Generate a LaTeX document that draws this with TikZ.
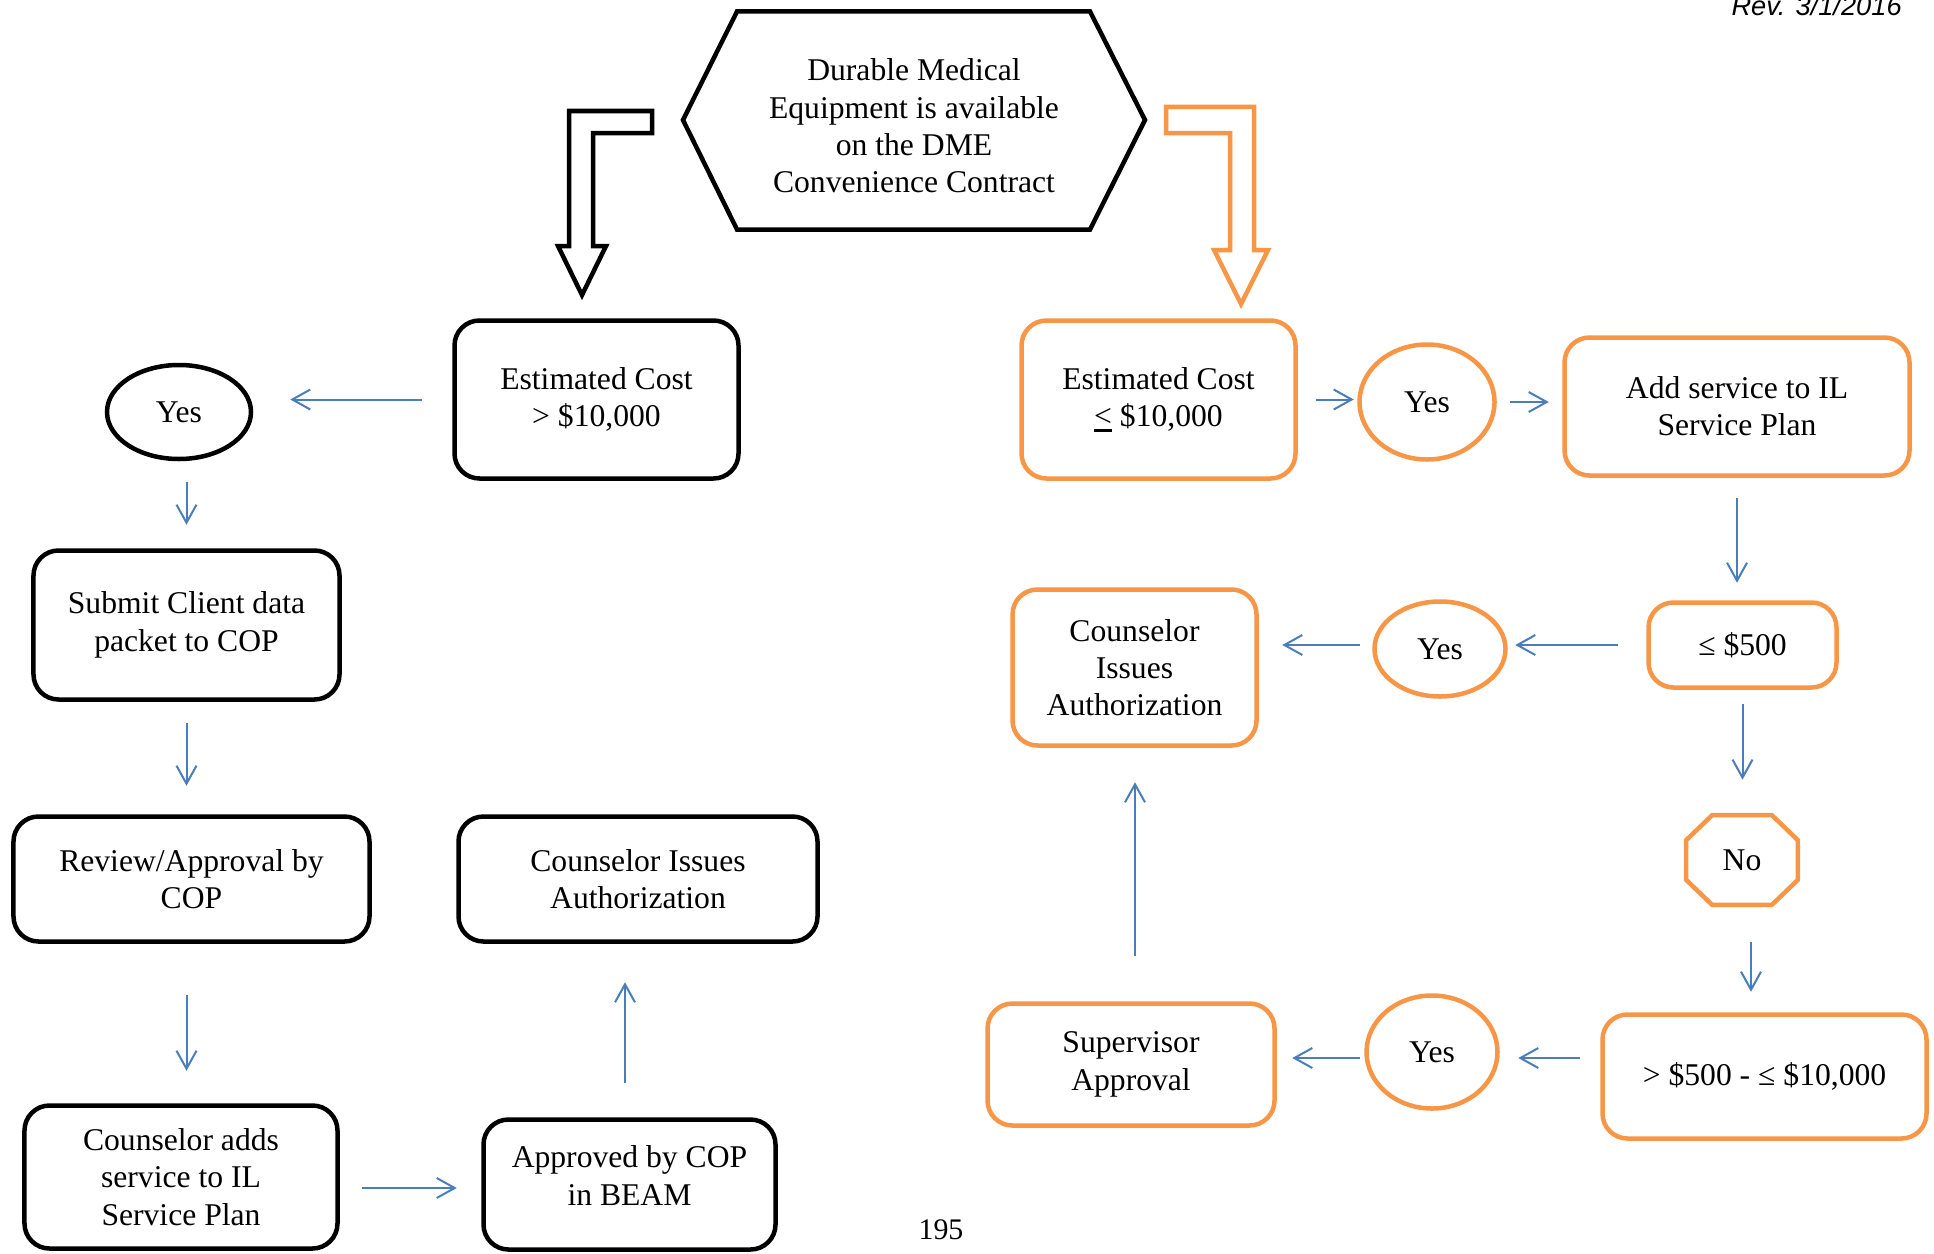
\documentclass[tikz,border=0pt]{standalone}
\usepackage{fontspec}
\setmainfont{Liberation Serif}
\newfontfamily\revfont{Liberation Sans}
\usetikzlibrary{arrows.meta,shapes.geometric}
\definecolor{dmeorange}{HTML}{F79646}
\definecolor{flowblue}{HTML}{4A7EBB}
\newcommand{\lequl}{\makebox[0pt][l]{\rule[-3pt]{0.56em}{1.4pt}}<}
\begin{document}
\begin{tikzpicture}[x=0.2mm,y=-0.2mm,>={Straight Barb[length=3.6mm,width=4mm]},
	every node/.style={font=\fontsize{18}{21.2}\selectfont,align=center,inner sep=0pt},
	blkbox/.style={draw=black,line width=0.9mm,rounded corners=5mm},
	orgbox/.style={draw=dmeorange,line width=0.9mm,rounded corners=5mm},
	blkyes/.style={ellipse,draw=black,line width=0.9mm},
	orgyes/.style={ellipse,draw=dmeorange,line width=0.9mm},
	flow/.style={->,flowblue,line width=0.4mm}]
	\clip (0,0) rectangle (1934,1253);
	\node[font=\revfont\itshape\fontsize{15.5}{18}\selectfont,anchor=base east] (rev) at (1902,16) {Rev. 3/1/2016};
	\node[font=\fontsize{17}{20}\selectfont] (page) at (941,1230) {195};
	% top hexagon and the two block arrows
	\draw[line width=0.9mm] (683,120) -- (737,11.5) -- (1090,11.5) -- (1145,120) -- (1090,229.5) -- (737,229.5) -- cycle;
	\node (dme) at (914,126) {Durable Medical\\Equipment is available\\on the DME\\Convenience Contract};
	\draw[line width=0.9mm,fill=white] (569,111) -- (652,111) -- (652,133) -- (593,133) -- (593,246) -- (606,246) -- (582,295) -- (558,246) -- (569,246) -- cycle;
	\draw[dmeorange,line width=0.9mm,fill=white] (1166,107) -- (1254,107) -- (1254,250) -- (1268,250) -- (1241,304) -- (1214,250) -- (1230,250) -- (1230,133) -- (1166,133) -- cycle;
	% left branch
	\node[blkbox,minimum width=56.8mm,minimum height=31.6mm] (costhi) at (596.5,399.5) {Estimated Cost\\> \$10,000};
	\node[blkyes,minimum width=28.8mm,minimum height=18.8mm] (yesL) at (179,412) {Yes};
	\node[blkbox,minimum width=61.2mm,minimum height=29.8mm] (submit) at (186.5,625) {Submit Client data\\packet to COP};
	\node[blkbox,minimum width=71.2mm,minimum height=25mm] (review) at (191.5,879) {Review/Approval by\\COP};
	\node[blkbox,minimum width=62.6mm,minimum height=28.6mm] (adds) at (181,1177) {Counselor adds\\service to IL\\Service Plan};
	\node[blkbox,minimum width=58.4mm,minimum height=26mm,text depth=3.6mm] (approved) at (629.5,1184.5) {Approved by COP\\in BEAM};
	\node[blkbox,minimum width=71.8mm,minimum height=25mm] (issuesL) at (638,879) {Counselor Issues\\Authorization};
	\draw[flow,shorten <=6.1mm,shorten >=7.4mm] (costhi.west) -- (costhi.west -| yesL.east);
	\draw[flow,shorten <=4.2mm,shorten >=4.7mm] (yesL.south -| submit.north) -- (submit.north);
	\draw[flow,shorten <=4.3mm,shorten >=5.7mm] (submit.south) -- (review.north -| submit.south);
	\draw[flow,shorten <=10.3mm,shorten >=6.5mm] (review.south -| submit.south) -- (adds.north -| submit.south);
	\draw[flow,shorten <=4.5mm,shorten >=4.9mm] ([yshift=-2.2mm]adds.east) -- ([yshift=-2.2mm]adds.east -| approved.west);
	\draw[flow,shorten <=6.9mm,shorten >=7.7mm] ([xshift=-0.9mm]approved.north) -- ([xshift=-0.9mm]approved.north |- issuesL.south);
	% right branch
	\node[orgbox,minimum width=54.8mm,minimum height=31.6mm] (costlo) at (1158.5,399.5) {Estimated Cost\\\lequl{} \$10,000};
	\node[orgyes,minimum width=27mm,minimum height=23mm] (yesA) at (1427,402) {Yes};
	\node[orgbox,minimum width=69mm,minimum height=27.6mm] (addsvc) at (1737,406.5) {Add service to IL\\Service Plan};
	\node[orgbox,minimum width=37.6mm,minimum height=17mm] (le500) at (1742.5,645) {≤ \$500};
	\node[orgyes,minimum width=26.2mm,minimum height=19mm] (yesB) at (1440,649) {Yes};
	\node[orgbox,minimum width=48.8mm,minimum height=31.2mm] (issuesR) at (1134.5,667.5) {Counselor\\Issues\\Authorization};
	\node[minimum width=22.2mm,minimum height=17.8mm] (no) at (1742,860) {No};
	\draw[dmeorange,line width=0.9mm] ([yshift=-5mm]no.north west) -- ([xshift=5.2mm]no.north west) -- ([xshift=-5.2mm]no.north east) -- ([yshift=-5mm]no.north east) -- ([yshift=5mm]no.south east) -- ([xshift=-5.2mm]no.south east) -- ([xshift=5.2mm]no.south west) -- ([yshift=5mm]no.south west) -- cycle;
	\node[orgbox,minimum width=64.8mm,minimum height=24.8mm] (range) at (1764.5,1076.5) {> \$500 - ≤ \$10,000};
	\node[orgyes,minimum width=26.2mm,minimum height=22.6mm] (yesC) at (1432,1052) {Yes};
	\node[orgbox,minimum width=57.4mm,minimum height=24.4mm] (superv) at (1131,1064.5) {Supervisor\\Approval};
	\draw[flow,shorten <=3.7mm,shorten >=0.7mm] (costlo.east) -- (costlo.east -| yesA.west);
	\draw[flow,shorten <=2.7mm,shorten >=2.7mm] (yesA.east) -- (yesA.east -| addsvc.west);
	\draw[flow,shorten <=4.1mm,shorten >=3.5mm] (addsvc.south) -- (addsvc.south |- le500.north);
	\draw[flow,shorten <=5.7mm,shorten >=1.5mm] (le500.west) -- (le500.west -| yesB.east);
	\draw[flow,shorten <=2.5mm,shorten >=4.7mm] ([yshift=0.8mm]yesB.west) -- ([yshift=0.8mm]yesB.west -| issuesR.east);
	\draw[flow,shorten <=2.9mm,shorten >=7.1mm] (le500.south) -- (le500.south |- no.north);
	\draw[flow,shorten <=7.5mm,shorten >=4.1mm] ([xshift=1.8mm]no.south) -- ([xshift=1.8mm]no.south |- range.north);
	\draw[flow,shorten <=4.1mm,shorten >=3.7mm] ([yshift=-1.2mm]yesC.east -| range.west) -- ([yshift=-1.2mm]yesC.east);
	\draw[flow,shorten <=0.9mm,shorten >=3.1mm] ([yshift=-1.2mm]yesC.west) -- ([yshift=-1.2mm]yesC.west -| superv.east);
	\draw[flow,shorten <=9.1mm,shorten >=6.9mm] ([xshift=0.8mm]superv.north) -- ([xshift=0.8mm]superv.north |- issuesR.south);
	%\draw[help lines] (0,0) grid[step=100] (1934,1253);
\end{tikzpicture}
\end{document}
